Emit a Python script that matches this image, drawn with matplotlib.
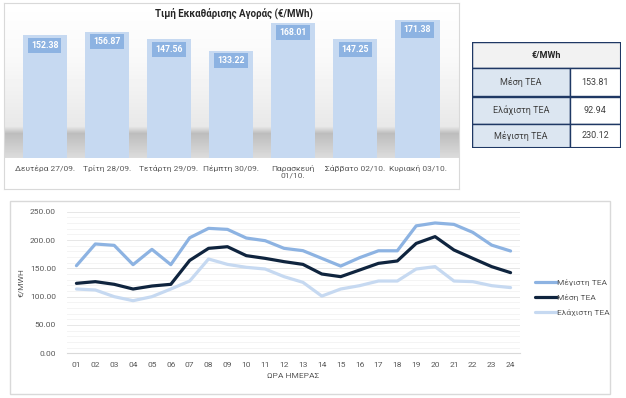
import numpy as np
import matplotlib.pyplot as plt
from matplotlib.patches import Rectangle

plt.rcParams['font.family'] = ['Roboto', 'DejaVu Sans']

# Ημερήσια τιμή εκκαθάρισης
days = ['Δευτέρα 27/09.', 'Τρίτη 28/09.', 'Τετάρτη 29/09.', 'Πέμπτη 30/09.',
        'Παρασκευή\n01/10.', 'Σάββατο 02/10.', 'Κυριακή 03/10.']
daily_price = [152.38, 156.87, 147.56, 133.22, 168.01, 147.25, 171.38]

# Πίνακας
table_rows = ['Μέση TEA', 'Ελάχιστη TEA', 'Μέγιστη TEA']
table_vals = ['153.81', '92.94', '230.12']

# Ωριαίες τιμές
hours = [f'{h:02d}' for h in range(1, 25)]
max_tea = [154.7, 193.0, 190.6, 156.5, 183.5, 156.5, 204.0, 220.6, 218.8, 203.5, 198.8, 185.3,
           181.2, 167.6, 154.0, 168.8, 181.0, 181.0, 225.0, 230.1, 227.6, 213.5, 191.0, 180.6]
mean_tea = [123.5, 126.5, 121.8, 113.5, 118.8, 121.8, 164.0, 185.3, 188.2, 172.4, 167.6, 161.8,
            157.0, 140.0, 135.3, 147.0, 158.8, 163.0, 194.0, 206.0, 182.4, 167.6, 153.0, 142.4]
min_tea = [113.5, 111.8, 100.0, 92.9, 100.0, 113.5, 127.6, 166.5, 157.0, 151.8, 148.8, 135.3,
           125.3, 101.0, 113.5, 119.4, 127.6, 127.6, 148.8, 153.0, 127.6, 126.5, 119.4, 116.0]

W, H = 626, 398
fig = plt.figure(figsize=(W / 100, H / 100), dpi=100)
fig.patch.set_facecolor('white')


def box(x0, y0, x1, y1):
    # pixel box (top-left origin) -> figure fractions
    return [x0 / W, 1 - y1 / H, (x1 - x0) / W, (y1 - y0) / H]


# --- πάνελ ράβδων: φόντο με σκιά ---
bg = fig.add_axes(box(4, 3, 459, 189), zorder=0)
rows = np.arange(3, 189)
shade = np.interp(rows, [3, 60, 126, 133, 157, 158, 189],
                  [1.0, 0.975, 0.91, 0.74, 0.86, 1.0, 1.0])
bg.imshow(np.tile(shade[:, None], (1, 10)), cmap='gray', vmin=0, vmax=1,
          aspect='auto', extent=[0, 1, 0, 1])
bg.set_xticks([])
bg.set_yticks([])
for s in bg.spines.values():
    s.set_color('#d9d9d9')

ax1 = fig.add_axes(box(13.6, 5, 448.6, 157.7), zorder=1)
ax1.patch.set_alpha(0)
x = np.arange(len(days))
ax1.bar(x, daily_price, width=0.71, color='#c6d9f1', zorder=2)
for xi, v in zip(x, daily_price):
    ax1.annotate(f'{v:.2f}', (xi, v), xytext=(0, -10), textcoords='offset pixels',
                 ha='center', va='center', fontsize=6.3, fontweight='bold', color='white',
                 bbox=dict(boxstyle='square,pad=0.35', fc='#8db3e2', ec='none'), zorder=3)
ax1.set_xlim(-0.5, 6.5)
ax1.set_ylim(0, 190)
ax1.set_yticks([])
ax1.set_xticks(x)
ax1.set_xticklabels(days, fontsize=6, color='#595959')
ax1.tick_params(axis='x', length=0, pad=5)
for s in ax1.spines.values():
    s.set_visible(False)
fig.text(234 / W, 1 - 13 / H, 'Τιμή Εκκαθάρισης Αγοράς (€/MWh)', ha='center', va='center',
         fontsize=7, fontweight='bold', color='#262626')

# --- πίνακας ---
tx = fig.add_axes(box(472, 41.7, 620.7, 148), zorder=2)
tx.set_xlim(472, 620.7)
tx.set_ylim(148, 41.7)
tx.axis('off')
edge = '#1f3864'
tx.add_patch(Rectangle((472, 41.7), 148.7, 26.6, fc='#f2f2f2', ec=edge, lw=1.0))
tx.text(546.3, 55, '€/MWh', ha='center', va='center', fontsize=6.5, fontweight='bold',
        color='#262626')
row_top = [68.3, 96.5, 124.0]
row_bot = [96.5, 124.0, 148.0]
for name, val, t, b in zip(table_rows, table_vals, row_top, row_bot):
    tx.add_patch(Rectangle((472, t), 98, b - t, fc='#dce6f1', ec=edge, lw=1.0))
    tx.add_patch(Rectangle((570, t), 50.7, b - t, fc='white', ec=edge, lw=1.0))
    tx.text(521, (t + b) / 2, name, ha='center', va='center', fontsize=6.5, color='#404040')
    tx.text(595.3, (t + b) / 2, val, ha='center', va='center', fontsize=6.5, color='#404040')
tx.add_patch(Rectangle((472, 41.7), 148.7, 106.3, fc='none', ec=edge, lw=1.5))

# --- πάνελ γραμμών ---
fig.add_artist(Rectangle((10 / W, 1 - 394 / H), 600 / W, 193 / H, transform=fig.transFigure,
                         fc='none', ec='#d9d9d9', lw=1.0))
ax2 = fig.add_axes(box(67, 211.7, 520, 353.3), zorder=1)
hx = np.arange(len(hours))
ax2.plot(hx, max_tea, color='#8db3e2', lw=2.3, label='Μέγιστη TEA', solid_capstyle='round')
ax2.plot(hx, mean_tea, color='#0f243e', lw=2.3, label='Μέση TEA', solid_capstyle='round')
ax2.plot(hx, min_tea, color='#c6d9f1', lw=2.3, label='Ελάχιστη TEA', solid_capstyle='round')
ax2.set_xlim(-0.5, 23.5)
ax2.set_ylim(0, 250)
ax2.set_yticks(np.arange(0, 251, 50))
ax2.set_yticks(np.arange(0, 251, 10), minor=True)
ax2.set_yticklabels([f'{v:.2f}' for v in np.arange(0, 251, 50)], fontsize=6, color='#595959')
ax2.set_xticks(hx)
ax2.set_xticklabels(hours, fontsize=6, color='#595959')
ax2.tick_params(axis='both', which='both', length=0)
ax2.tick_params(axis='y', pad=8)
ax2.tick_params(axis='x', pad=6)
ax2.grid(axis='y', which='major', color='#e3e3e3', lw=0.6)
ax2.grid(axis='y', which='minor', color='#f2f2f2', lw=0.6)
ax2.set_axisbelow(True)
for s in ['top', 'right', 'left']:
    ax2.spines[s].set_visible(False)
ax2.spines['bottom'].set_color('#d9d9d9')
ax2.set_ylabel('€/MWH', fontsize=6, color='#595959', labelpad=4)
ax2.set_xlabel('ΩΡΑ ΗΜΕΡΑΣ', fontsize=6, color='#595959', labelpad=4)
ax2.legend(loc='center left', bbox_to_anchor=(1.033, 0.393), frameon=False, fontsize=6,
           labelcolor='#595959', handlelength=2.6, handletextpad=0.1, labelspacing=0.95,
           borderpad=0, borderaxespad=0)

fig.savefig('out.png', dpi=100, facecolor='white')
